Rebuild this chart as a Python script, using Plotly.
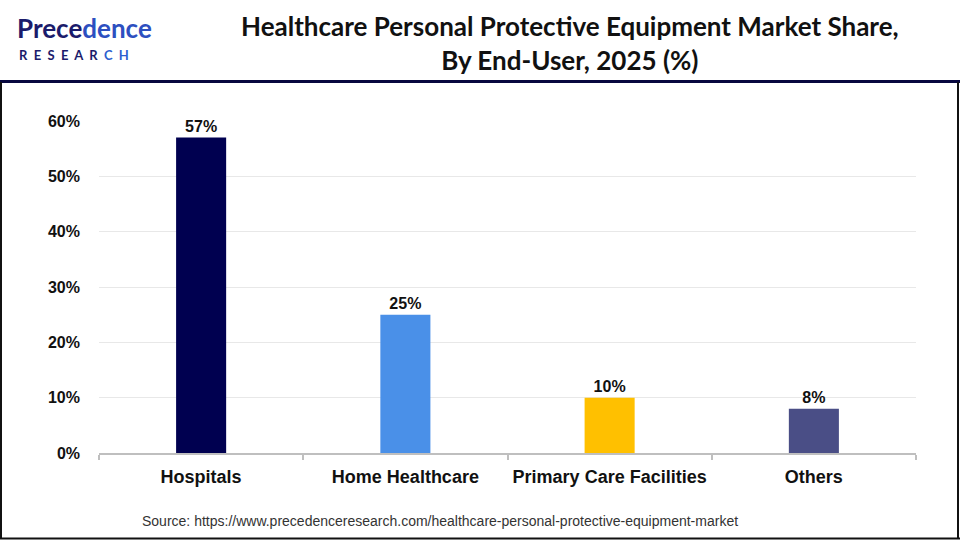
import plotly.graph_objects as go

categories = ["Hospitals", "Home Healthcare", "Primary Care Facilities", "Others"]
values = [57, 25, 10, 8]
labels = ["57%", "25%", "10%", "8%"]
colors = ["#000050", "#4A90E8", "#FFC000", "#4A4E86"]
y_ticks = [0, 10, 20, 30, 40, 50, 60]
y_tick_text = ["0%", "10%", "20%", "30%", "40%", "50%", "60%"]

W, H = 960, 540
L, R, T, B = 99, 916, 121, 453  # plot area pixels

def px(x):
    return (x - L) / (R - L)

def py(y):
    return (B - y) / (B - T)

fig = go.Figure()
fig.add_trace(go.Bar(
    x=categories, y=values, marker=dict(color=colors, line=dict(width=0)),
    width=0.245, text=labels, textposition="outside", cliponaxis=False,
    textfont=dict(family="Liberation Sans, Arial", size=16, color="#111111", weight="bold"),
    hoverinfo="skip",
))

fig.update_layout(
    width=W, height=H,
    margin=dict(l=L, r=W - R, t=T, b=H - B),
    paper_bgcolor="white", plot_bgcolor="white",
    showlegend=False,
    font=dict(family="Liberation Sans, Arial", color="#111111"),
)
fig.update_yaxes(
    range=[0, 60], tickvals=y_ticks, ticktext=y_tick_text,
    showgrid=True, gridcolor="#E8E8E8", gridwidth=1,
    zeroline=False, showline=False, ticks="",
    ticklabelstandoff=18, automargin=False,
    tickfont=dict(family="Liberation Sans, Arial", size=16, color="#111111", weight="bold"),
)
fig.update_xaxes(
    showline=True, linecolor="#BFBFBF", linewidth=2,
    ticks="outside", tickson="boundaries", ticklen=5, tickcolor="#BFBFBF", tickwidth=1.5,
    showgrid=False, tickangle=0, automargin=False,
    tickfont=dict(family="Liberation Sans, Arial", size=18, color="#111111", weight="bold"),
    ticklabelstandoff=6,
)

# frame lines
fig.add_shape(type="line", xref="paper", yref="paper", x0=px(0), x1=px(960), y0=py(81.5), y1=py(81.5),
              line=dict(color="#07073F", width=3))
fig.add_shape(type="line", xref="paper", yref="paper", x0=px(1), x1=px(1), y0=py(82), y1=py(539),
              line=dict(color="#111111", width=2))
fig.add_shape(type="line", xref="paper", yref="paper", x0=px(958), x1=px(958), y0=py(82), y1=py(539),
              line=dict(color="#111111", width=2))
fig.add_shape(type="line", xref="paper", yref="paper", x0=px(0), x1=px(960), y0=py(538.5), y1=py(538.5),
              line=dict(color="#111111", width=2))

# title
fig.add_annotation(
    xref="paper", yref="paper", x=px(570), y=py(43), xanchor="center", yanchor="middle",
    text="Healthcare Personal Protective Equipment Market Share,<br>By End-User, 2025 (%)",
    showarrow=False, align="center",
    font=dict(family="Lato, Carlito, Calibri", size=26, color="#111111", weight="bold"),
)

# logo
fig.add_annotation(
    xref="paper", yref="paper", x=px(16), y=py(28), xanchor="left", yanchor="middle",
    text="<span style='color:#1B1B6B'>Prece</span><span style='color:#2D4FC0'>dence</span>",
    showarrow=False, borderpad=0,
    font=dict(family="Lato, Noto Sans", size=26, color="#1B1B6B", weight="bold"),
)
fig.add_annotation(
    xref="paper", yref="paper", x=px(18), y=py(55), xanchor="left", yanchor="middle",
    text="<span style='color:#1B1B6B'>R&nbsp;&nbsp;E&nbsp;&nbsp;S&nbsp;&nbsp;E&nbsp;&nbsp;A&nbsp;&nbsp;R&nbsp;&nbsp;</span>"
         "<span style='color:#2D5FD0'>C&nbsp;&nbsp;H</span>",
    showarrow=False, borderpad=0,
    font=dict(family="Lato, Noto Sans", size=13, color="#1B1B6B", weight="bold"),
)

# source
fig.add_annotation(
    xref="paper", yref="paper", x=px(440), y=py(521), xanchor="center", yanchor="middle",
    text="Source: https://www.precedenceresearch.com/healthcare-personal-protective-equipment-market",
    showarrow=False, font=dict(family="Liberation Sans, Arial", size=14, color="#333333"),
)

fig.write_html("out.html")
